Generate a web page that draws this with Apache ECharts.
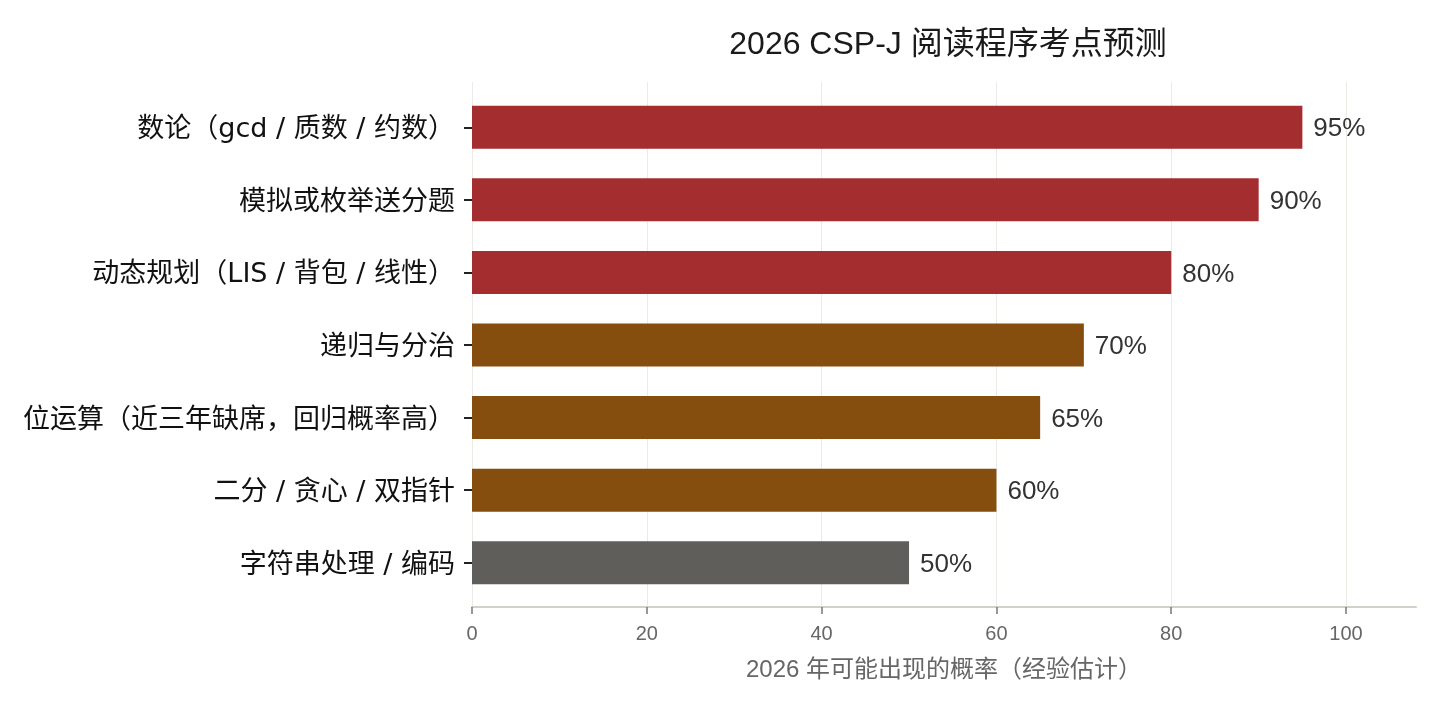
<!DOCTYPE html>
<html>
<head>
<meta charset="utf-8">
<title>2026 CSP-J 阅读程序考点预测</title>
<script src="https://cdn.jsdelivr.net/npm/echarts@6/dist/echarts.min.js"></script>
<style>
  html, body { margin: 0; padding: 0; background: #fff; }
  #main { width: 1440px; height: 704px; }
</style>
</head>
<body>
<div id="main"></div>
<script>
// 考点（从上到下）
var topics = [
  '数论（gcd / 质数 / 约数）',
  '模拟或枚举送分题',
  '动态规划（LIS / 背包 / 线性）',
  '递归与分治',
  '位运算（近三年缺席，回归概率高）',
  '二分 / 贪心 / 双指针',
  '字符串处理 / 编码'
];
// 出现概率 %
var probs = [95, 90, 80, 70, 65, 60, 50];
// 分档：high / mid / low
var tiers = ['high', 'high', 'high', 'mid', 'mid', 'mid', 'low'];
// x 轴刻度
var xTickMin = 0, xTickMax = 100, xTickStep = 20;
var xAxisMax = 108;

var tierColor = { high: '#a32d2f', mid: '#854d0e', low: '#5f5e5a' };
var latin = '"Liberation Sans", "Noto Sans CJK SC", sans-serif';
var wide = '"DejaVu Sans", "Noto Sans CJK SC", sans-serif';

var chart = echarts.init(document.getElementById('main'));

var barData = probs.map(function (v, i) {
  return { value: v, itemStyle: { color: tierColor[tiers[i]] } };
});

chart.setOption({
  backgroundColor: '#fff',
  animation: false,
  title: {
    text: '2026 CSP-J 阅读程序考点预测',
    left: 943,
    textAlign: 'center',
    top: 24,
    textStyle: { fontFamily: latin, fontSize: 32, fontWeight: 'normal', color: '#1a1a1a' }
  },
  grid: [
    // 条形所在区域
    { left: 472, right: 24, top: 91, bottom: 105, containLabel: false },
    // 网格线 / 刻度区域（0–100）
    { left: 472, right: 94, top: 82, bottom: 97, containLabel: false }
  ],
  xAxis: [{
    type: 'value',
    gridIndex: 0,
    min: 0,
    max: xAxisMax,
    offset: 8,
    axisLine: { show: true, lineStyle: { color: '#d3d1c7', width: 2 } },
    axisTick: { show: false },
    axisLabel: { show: false },
    splitLine: { show: false },
    name: '2026 年可能出现的概率（经验估计）',
    nameLocation: 'middle',
    nameGap: 51,
    nameTextStyle: { fontFamily: latin, fontSize: 24, color: '#666' }
  }, {
    type: 'value',
    gridIndex: 1,
    min: xTickMin,
    max: xTickMax,
    interval: xTickStep,
    axisLine: { show: false },
    axisTick: { show: true, length: 7, lineStyle: { color: '#777', width: 1.5 } },
    axisLabel: { fontFamily: latin, fontSize: 20, color: '#666', margin: 17 },
    splitLine: { show: true, lineStyle: { color: '#ebeae4', width: 1 } }
  }],
  yAxis: [{
    type: 'category',
    gridIndex: 0,
    inverse: true,
    data: topics,
    axisLine: { show: false },
    axisTick: { show: true, length: 8, alignWithLabel: true, lineStyle: { color: '#222', width: 2 } },
    axisLabel: {
      margin: 17,
      formatter: function (v) { return '{t|' + v + '}'; },
      rich: { t: { fontFamily: wide, fontSize: 27, color: '#111', padding: [6, 0, 0, 0] } }
    }
  }, {
    type: 'value',
    gridIndex: 1,
    min: 0,
    max: 1,
    show: false
  }],
  series: [{
    type: 'bar',
    xAxisIndex: 0,
    yAxisIndex: 0,
    data: barData,
    barWidth: 43,
    label: {
      show: true,
      position: 'right',
      distance: 11,
      formatter: '{v|{c}%}',
      rich: { v: { fontFamily: latin, fontSize: 26, color: '#333', padding: [4, 0, 0, 0] } }
    }
  }]
});
</script>
</body>
</html>
